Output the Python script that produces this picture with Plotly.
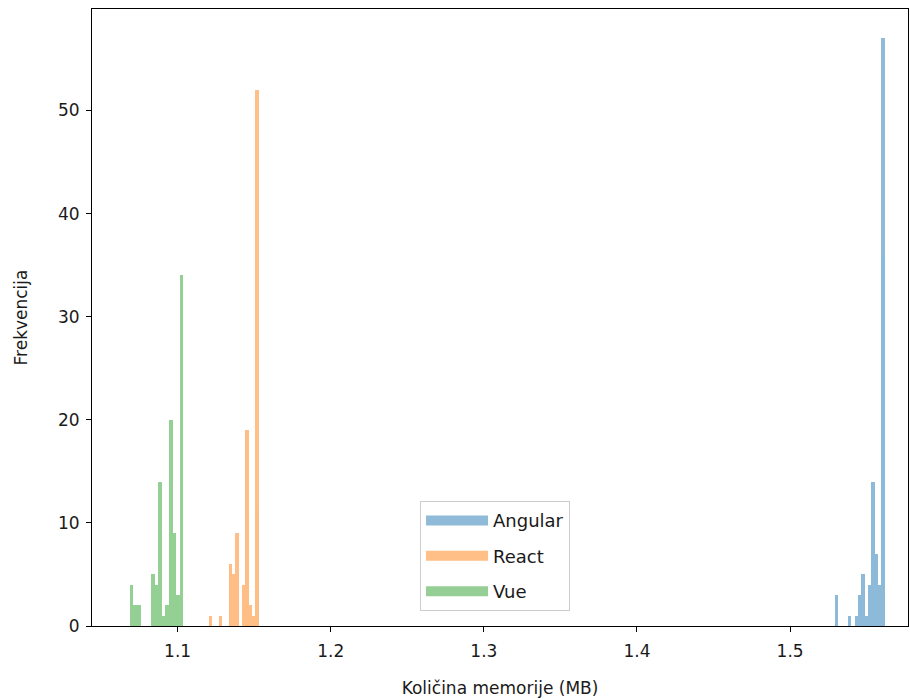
import plotly.graph_objects as go

# Histogram bins (left edge of first bin, bin width, counts)
series_names = ["Angular", "React", "Vue"]
angular_start = 1.5292
angular_width = 0.002176
angular_counts = [3, 0, 0, 0, 1, 0, 1, 3, 5, 1, 4, 14, 7, 4, 57]

react_start = 1.1202
react_width = 0.002176
react_counts = [1, 0, 0, 1, 0, 0, 6, 5, 9, 0, 4, 19, 2, 1, 52]

vue_start = 1.0688
vue_width = 0.002324
vue_counts = [4, 2, 2, 0, 0, 0, 5, 4, 14, 1, 2, 20, 9, 3, 34]

x_ticks = [1.1, 1.2, 1.3, 1.4, 1.5]
y_ticks = [0, 10, 20, 30, 40, 50]

colors = ["#1f77b4", "#ff7f0e", "#2ca02c"]
font = "DejaVu Sans, Liberation Sans, sans-serif"

fig = go.Figure()
series = [
    (angular_start, angular_width, angular_counts),
    (react_start, react_width, react_counts),
    (vue_start, vue_width, vue_counts),
]
for name, color, (start, width, counts) in zip(series_names, colors, series):
    centers = [start + width * (i + 0.5) for i in range(len(counts))]
    fig.add_trace(go.Bar(
        x=centers, y=counts, width=[width] * len(counts),
        marker=dict(color=color, line=dict(width=0)), opacity=0.5,
        name=name, showlegend=False,
    ))
    # legend entry drawn as a wide patch
    fig.add_trace(go.Scatter(
        x=[None], y=[None], mode="lines", name=name, legendgroup=name,
        line=dict(color=color, width=16), opacity=0.5,
    ))

fig.update_layout(
    width=910, height=700,
    margin=dict(l=92, r=2, t=9, b=74),
    plot_bgcolor="white", paper_bgcolor="white",
    barmode="overlay", bargap=0,
    font=dict(family=font, size=17, color="#1a1a1a"),
    showlegend=True,
    legend=dict(
        x=0.402, y=0.024, xanchor="left", yanchor="bottom",
        bgcolor="rgba(255,255,255,0.8)", bordercolor="#cccccc", borderwidth=1,
        font=dict(size=18), itemwidth=62, tracegroupgap=9,
        entrywidth=160, entrywidthmode="pixels",
    ),
    xaxis=dict(
        range=[1.0441, 1.577], tickvals=x_ticks, ticktext=[str(v) for v in x_ticks],
        showgrid=False, zeroline=False, showline=True, mirror=True,
        linecolor="black", linewidth=1, ticks="outside", ticklen=5, tickcolor="black",
        ticklabelstandoff=5,
        title=dict(text="Količina memorije (MB)", standoff=21, font=dict(size=17)),
    ),
    yaxis=dict(
        range=[0, 59.85], tickvals=y_ticks,
        showgrid=False, zeroline=False, showline=True, mirror=True,
        linecolor="black", linewidth=1, ticks="outside", ticklen=5, tickcolor="black",
        ticklabelstandoff=3,
        title=dict(text="Frekvencija", standoff=26, font=dict(size=17)),
    ),
)

fig.write_html("out.html")
